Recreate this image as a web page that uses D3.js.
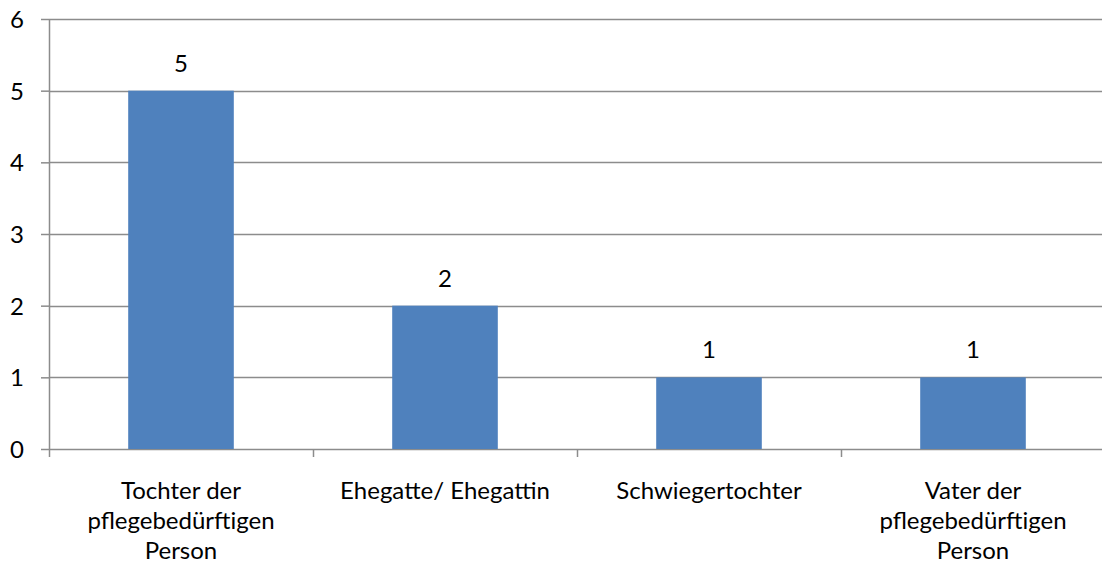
<!DOCTYPE html>
<html>
<head>
<meta charset="utf-8">
<script src="https://cdn.jsdelivr.net/npm/d3@7"></script>
<style>
  html, body { margin: 0; padding: 0; background: #fff; }
  svg { display: block; }
  text { font-family: Lato, "Open Sans", sans-serif; fill: #000; }
</style>
</head>
<body>
<svg id="chart" width="1102" height="569"></svg>
<script>
// Categories (each entry is a list of wrapped label lines) and their counts
const categories = [
  ["Tochter der", "pflegebedürftigen", "Person"],
  ["Ehegatte/ Ehegattin"],
  ["Schwiegertochter"],
  ["Vater der", "pflegebedürftigen", "Person"]
];
const values = [5, 2, 1, 1];
const yTicks = [0, 1, 2, 3, 4, 5, 6];

const FONT = "Lato, 'Open Sans', sans-serif";
const FS = 24;

const svg = d3.select("#chart");
const margin = { left: 49, top: 19, right: -3, bottom: 120 };
const width = 1102, height = 569;
const plotW = width - margin.left - margin.right;
const plotH = height - margin.top - margin.bottom;

const keys = categories.map((c, i) => i);
const x = d3.scaleBand().domain(keys).range([0, plotW]);
const y = d3.scaleLinear().domain([0, 6]).range([plotH, 0]);
const barW = x.bandwidth() * 0.4;

const g = svg.append("g").attr("transform", `translate(${margin.left},${margin.top})`);
const gridColor = "#8c8c8c";

// Horizontal gridlines
g.append("g")
  .selectAll("line")
  .data(yTicks)
  .join("line")
  .attr("x1", 0).attr("x2", plotW)
  .attr("y1", d => Math.round(y(d)) + 0.5).attr("y2", d => Math.round(y(d)) + 0.5)
  .attr("stroke", gridColor).attr("stroke-width", 1.5);

// Bars
g.append("g")
  .selectAll("rect")
  .data(values)
  .join("rect")
  .attr("x", (d, i) => x(i) + (x.bandwidth() - barW) / 2)
  .attr("y", d => y(d))
  .attr("width", barW)
  .attr("height", d => plotH - y(d))
  .attr("fill", "#4f81bd");

// Value labels
g.append("g")
  .selectAll("text")
  .data(values)
  .join("text")
  .attr("x", (d, i) => x(i) + x.bandwidth() / 2)
  .attr("y", d => y(d) - 19)
  .attr("text-anchor", "middle")
  .attr("font-size", FS)
  .text(d => d);

// Y axis
const yAxis = g.append("g")
  .call(d3.axisLeft(y).tickValues(yTicks).tickFormat(d3.format("d")).tickSize(8).tickPadding(17));
yAxis.select(".domain").attr("stroke", gridColor).attr("stroke-width", 1.5).attr("d", `M0.5,${plotH}V0`);
yAxis.selectAll(".tick line").attr("stroke", gridColor).attr("stroke-width", 1.5);
yAxis.selectAll(".tick text").attr("font-size", FS).attr("dy", "0.36em")
  .style("font-family", FONT).attr("fill", "#000");

// X axis tick marks at category boundaries
const bounds = d3.range(0, categories.length + 1).map(i => i * x.step());
g.append("g")
  .selectAll("line")
  .data(bounds)
  .join("line")
  .attr("x1", d => Math.round(d) + 0.5).attr("x2", d => Math.round(d) + 0.5)
  .attr("y1", plotH).attr("y2", plotH + 8)
  .attr("stroke", gridColor).attr("stroke-width", 1.5);

// Category labels
const labels = g.append("g")
  .selectAll("text")
  .data(categories)
  .join("text")
  .attr("x", (d, i) => x(i) + x.bandwidth() / 2)
  .attr("y", plotH + 50)
  .attr("text-anchor", "middle")
  .attr("font-size", FS);
labels.selectAll("tspan")
  .data(d => d)
  .join("tspan")
  .attr("x", function () { return d3.select(this.parentNode).attr("x"); })
  .attr("dy", (d, i) => i === 0 ? 0 : 30)
  .text(d => d);
</script>
</body>
</html>
